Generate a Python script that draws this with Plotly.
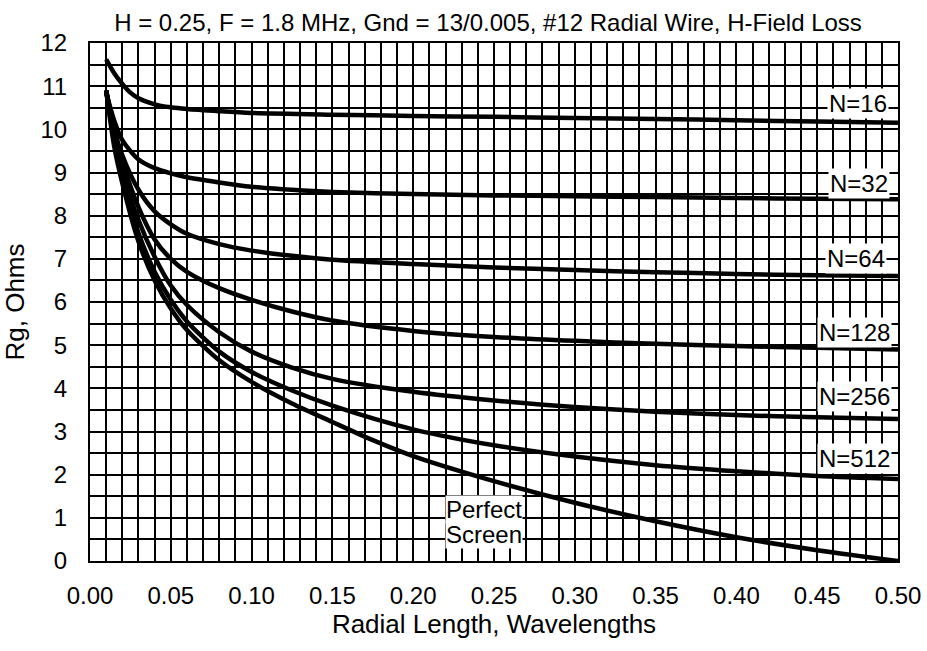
import plotly.graph_objects as go

# ---- data ----
x_pts = [0.01, 0.015, 0.02, 0.03, 0.04, 0.05, 0.06, 0.08, 0.10, 0.125, 0.15,
         0.20, 0.25, 0.30, 0.35, 0.40, 0.45, 0.50]
x16 = [0.01, 0.015, 0.02, 0.025, 0.03, 0.04, 0.05, 0.06, 0.08, 0.10, 0.15,
       0.20, 0.25, 0.30, 0.35, 0.40, 0.45, 0.50]
n16 = [11.62, 11.3, 11.05, 10.85, 10.72, 10.58, 10.51, 10.47, 10.42, 10.38, 10.34,
       10.31, 10.29, 10.26, 10.24, 10.21, 10.18, 10.15]
n32 = [10.85, 10.2, 9.75, 9.3, 9.1, 8.98, 8.89, 8.77, 8.67, 8.6, 8.55,
       8.5, 8.47, 8.45, 8.43, 8.41, 8.39, 8.38]
n64 = [10.9, 10.0, 9.4, 8.6, 8.1, 7.8, 7.58, 7.34, 7.19, 7.07, 6.98,
       6.88, 6.8, 6.74, 6.69, 6.65, 6.62, 6.6]
n128 = [10.9, 9.95, 9.25, 8.2, 7.45, 7.0, 6.7, 6.32, 6.05, 5.78, 5.57,
        5.33, 5.19, 5.1, 5.03, 4.98, 4.94, 4.9]
n256 = [10.9, 9.85, 9.05, 7.9, 7.05, 6.38, 5.93, 5.3, 4.85, 4.48, 4.22,
        3.92, 3.72, 3.57, 3.46, 3.38, 3.33, 3.29]
n512 = [10.9, 9.75, 8.9, 7.6, 6.7, 6.05, 5.55, 4.85, 4.38, 3.95, 3.6,
        3.05, 2.68, 2.42, 2.22, 2.08, 1.97, 1.9]
x_perf = [0.01, 0.015, 0.02, 0.03, 0.04, 0.05, 0.06, 0.08, 0.10, 0.125, 0.15,
          0.175, 0.20, 0.25, 0.30, 0.35, 0.40, 0.45, 0.50]
perfect = [10.9, 9.6, 8.75, 7.4, 6.5, 5.85, 5.35, 4.65, 4.15, 3.65, 3.22,
           2.8, 2.43, 1.85, 1.35, 0.92, 0.55, 0.25, 0.0]

series = [("N=16", x16, n16), ("N=32", x_pts, n32), ("N=64", x_pts, n64),
          ("N=128", x_pts, n128), ("N=256", x_pts, n256), ("N=512", x_pts, n512),
          ("Perfect Screen", x_perf, perfect)]

label_names = ["N=16", "N=32", "N=64", "N=128", "N=256", "N=512"]
label_x = [0.475, 0.476, 0.474, 0.473, 0.473, 0.473]
label_y = [10.59, 8.74, 7.0, 5.3, 3.8, 2.37]
perfect_lines = ["Perfect", "Screen"]
perfect_x = 0.2197
perfect_y = [1.2, 0.625]

x_ticks = [0.0, 0.05, 0.10, 0.15, 0.20, 0.25, 0.30, 0.35, 0.40, 0.45, 0.50]
y_ticks = list(range(0, 13))

FONT = "Liberation Sans, Arial, sans-serif"

fig = go.Figure()
for name, xs, ys in series:
    fig.add_trace(go.Scatter(x=xs, y=ys, mode="lines", name=name,
                             line=dict(color="black", width=4.5, shape="spline", smoothing=0.8),
                             showlegend=False, hoverinfo="skip"))

for name, lx, ly in zip(label_names, label_x, label_y):
    fig.add_annotation(x=lx, y=ly, text=name, showarrow=False,
                       font=dict(family=FONT, size=24, color="black"),
                       bgcolor="white", borderpad=1, xanchor="center", yanchor="middle")
for txt, ly in zip(perfect_lines, perfect_y):
    fig.add_annotation(x=perfect_x, y=ly, text=txt, showarrow=False,
                       font=dict(family=FONT, size=24, color="black"),
                       bgcolor="white", borderpad=0, xanchor="left", yanchor="middle")

fig.update_layout(
    width=927, height=651,
    margin=dict(l=90, r=29, t=43, b=90, autoexpand=False),
    paper_bgcolor="white", plot_bgcolor="white",
    font=dict(family=FONT, size=24, color="black"),
    title=dict(text="H = 0.25, F = 1.8 MHz, Gnd = 13/0.005, #12 Radial Wire, H-Field Loss",
               x=0.4926, xref="paper", xanchor="center", y=0.966, yanchor="middle",
               font=dict(family=FONT, size=24, color="black")),
    xaxis=dict(range=[0, 0.5], tickvals=x_ticks, tickformat=".2f",
               showgrid=True, gridcolor="black", gridwidth=1.5,
               minor=dict(dtick=0.01, showgrid=True, gridcolor="black", gridwidth=1.5),
               showline=True, linecolor="black", linewidth=2, mirror=True,
               ticks="", ticklabelstandoff=12, zeroline=False,
               title=dict(text="Radial Length, Wavelengths", standoff=6,
                          font=dict(family=FONT, size=26))),
    yaxis=dict(range=[0, 12], tickvals=y_ticks,
               showgrid=True, gridcolor="black", gridwidth=1.5,
               minor=dict(dtick=0.5, showgrid=True, gridcolor="black", gridwidth=1.5),
               showline=True, linecolor="black", linewidth=2, mirror=True,
               ticks="", ticklabelstandoff=16, zeroline=False,
               title=dict(text="Rg, Ohms", standoff=12,
                          font=dict(family=FONT, size=26))),
)

fig.write_html("out.html")
